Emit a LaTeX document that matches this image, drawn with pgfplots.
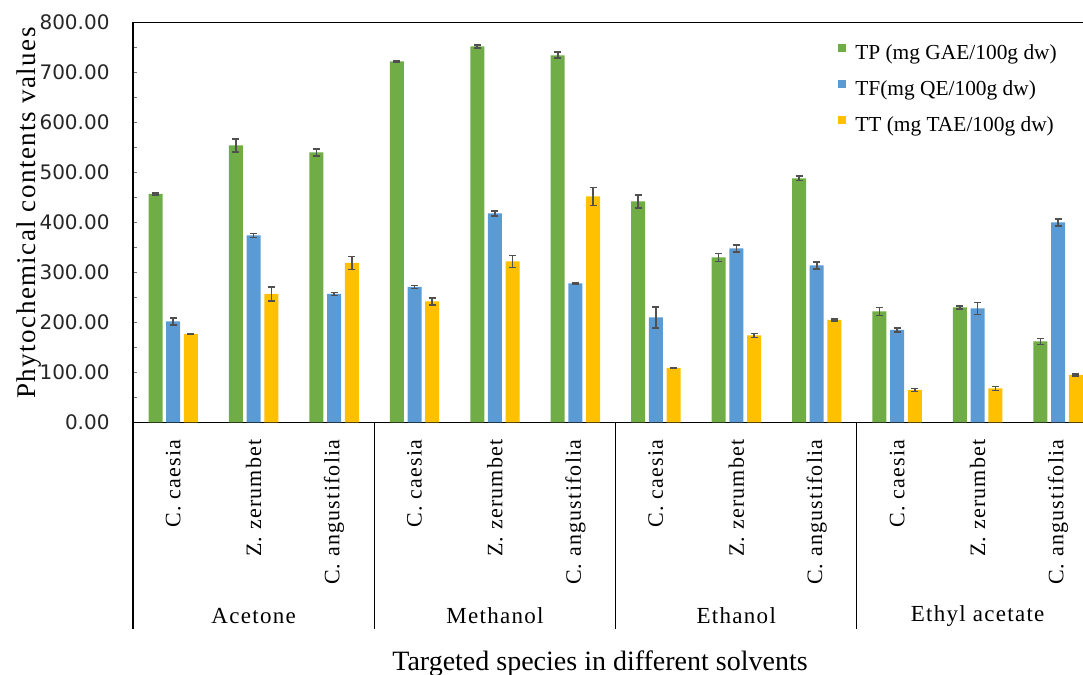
\documentclass[border=0pt]{standalone}
\usepackage{fontspec}
\setmainfont{Liberation Serif}
\newfontfamily\spaced[LetterSpace=5.6]{Liberation Serif}
\newfontfamily\ytitlefont[LetterSpace=5.5]{Liberation Serif}
\newfontfamily\dvsans{DejaVu Sans}
\usepackage{pgfplots}
\usepackage{pgfplotstable}
\pgfplotsset{compat=1.18}
\definecolor{tpgreen}{HTML}{70AD47}
\definecolor{tfblue}{HTML}{5B9BD5}
\definecolor{ttgold}{HTML}{FFC000}
\definecolor{errgray}{HTML}{505050}

\pgfplotstableread{
x  TP  TPe TF  TFe TT  TTe
0  457 2   202 7   177 1
1  554 13  374 4   257 14
2  540 7   257 3   319 13
3  722 1   271 3   242 7
4  752 3   418 5   322 12
5  734 6   278 1   452 18
6  442 13  210 21  109 1
7  330 8   348 7   174 4
8  488 4   314 7   205 2
9  222 8   185 4   65  3
10 230 3   228 12  68  4
11 162 6   400 7   95  2
}\data

\begin{document}
\begin{tikzpicture}
\path[use as bounding box] (-66.5pt,-126.35pt) rectangle (475pt,211.15pt);
\begin{axis}[
  scale only axis, width=475pt, height=200pt,
  xmin=-0.5, xmax=11.31, ymin=0, ymax=800,
  clip=false,
  ybar=1.85pt, bar width=7pt,
  axis x line*=bottom, axis y line*=left,
  axis line style={line width=0.7pt, black},
  xtick={0,...,11},
  xticklabels={C. caesia, Z. zerumbet, C. angustifolia, C. caesia, Z. zerumbet, C. angustifolia, C. caesia, Z. zerumbet, C. angustifolia, C. caesia, Z. zerumbet, C. angustifolia},
  x tick label style={rotate=90, anchor=east, xshift=-5pt, font=\spaced\fontsize{11}{13}\selectfont},
  xtick style={draw=none},
  ytick={0,100,...,800},
  minor y tick num=1,
  tick align=inside,
  major tick length=2pt, minor tick length=2pt,
  y tick style={line width=0.5pt, black!55},
  y tick label style={font=\dvsans\fontsize{10}{12}\selectfont, text=black!85, xshift=-8.2pt,
    /pgf/number format/fixed, /pgf/number format/fixed zerofill,
    /pgf/number format/precision=2, /pgf/number format/assume math mode=true},
  error bars/y dir=both, error bars/y explicit,
  error bars/error bar style={line width=0.8pt, draw=errgray},
  error bars/error mark options={rotate=90, mark size=1.75pt, line width=0.8pt, draw=errgray},
  legend image code/.code={\fill[#1] (0pt,1.5pt) rectangle (4pt,5.5pt);},
  legend cell align=left,
  legend style={draw=none, fill=none, at={(0.742,1)}, anchor=north west, yshift=-10.5pt,
    inner sep=0pt, row sep=7.5pt,
    nodes={inner sep=0pt, text height=7.5pt, text depth=2.5pt},
    /tikz/every odd column/.append style={column sep=4.5pt},
    font=\fontsize{10.7}{12.5}\selectfont},
]
\addplot[fill=tpgreen, draw=none] table[x=x, y=TP, y error=TPe] {\data};
\addplot[fill=tfblue, draw=none] table[x=x, y=TF, y error=TFe] {\data};
\addplot[fill=ttgold, draw=none] table[x=x, y=TT, y error=TTe] {\data};
\legend{TP (mg GAE/100g dw), TF(mg QE/100g dw), TT (mg TAE/100g dw)}
\draw[line width=0.8pt] (rel axis cs:0,1) -- (rel axis cs:1,1);
\draw[line width=0.7pt] (axis cs:-0.5,0) -- ++(0pt,-103.5pt);
\draw[line width=0.5pt] (axis cs:2.5,0) -- ++(0pt,-103.5pt);
\draw[line width=0.5pt] (axis cs:5.5,0) -- ++(0pt,-103.5pt);
\draw[line width=0.5pt] (axis cs:8.5,0) -- ++(0pt,-103.5pt);
\node[font=\spaced\fontsize{11.5}{13}\selectfont, yshift=-96.9pt] at (axis cs:1,0) {Acetone};
\node[font=\spaced\fontsize{11.5}{13}\selectfont, yshift=-96.9pt] at (axis cs:4,0) {Methanol};
\node[font=\spaced\fontsize{11.5}{13}\selectfont, yshift=-96.9pt] at (axis cs:7,0) {Ethanol};
\node[font=\spaced\fontsize{11.5}{13}\selectfont, yshift=-96.9pt] at (axis cs:10,0) {Ethyl acetate};
\end{axis}
\node[font=\fontsize{14}{16}\selectfont] at (233.5pt,-120.6pt) {Targeted species in different solvents};
\node[rotate=90, font=\ytitlefont\fontsize{13.5}{16}\selectfont] at (-52pt,104.6pt) {Phytochemical contents values};
\end{tikzpicture}
\end{document}
